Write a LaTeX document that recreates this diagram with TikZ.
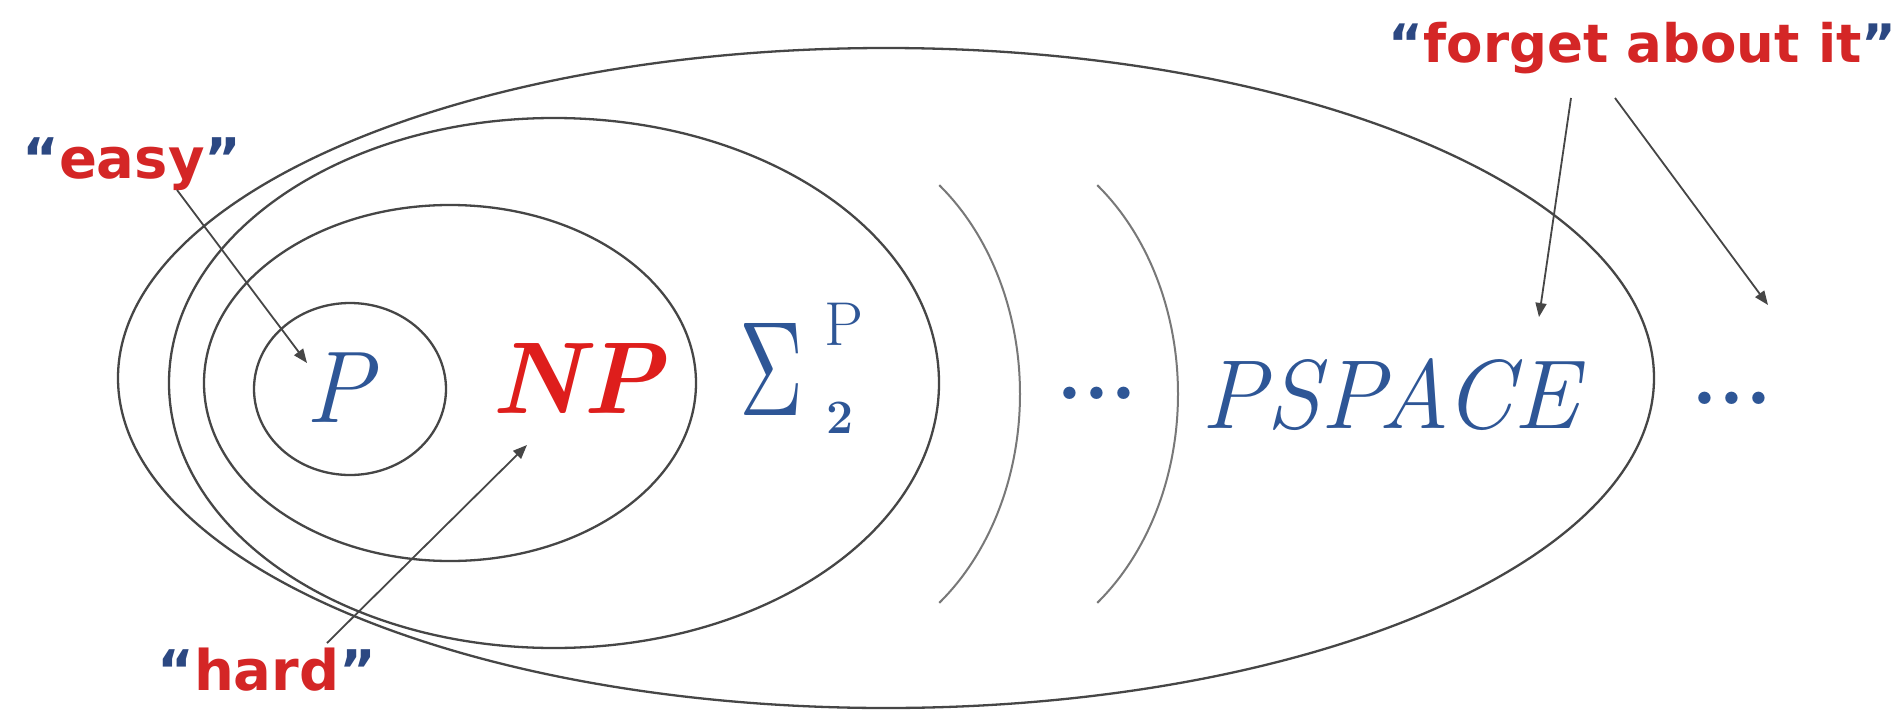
\documentclass[tikz,border=0pt]{standalone}
\usepackage{fontspec}
\usepackage{graphicx}
\newfontfamily\lblfont{DejaVu Sans}
\usetikzlibrary{arrows.meta}
\definecolor{setblue}{RGB}{46,86,150}
\definecolor{npred}{RGB}{222,30,28}
\definecolor{lblred}{RGB}{212,38,38}
\definecolor{quoteblue}{RGB}{44,72,130}
\definecolor{ringc}{RGB}{70,70,70}
\definecolor{arcc}{RGB}{120,120,120}
\definecolor{ptrc}{RGB}{70,70,70}
\begin{document}
\begin{tikzpicture}[x=1pt,y=-1pt,
  ring/.style={draw=ringc, line width=2.3pt},
  bracket/.style={draw=arcc, line width=2pt},
  pointer/.style={draw=ptrc, line width=1.8pt, -{Triangle[length=14pt,width=11pt]}},
  lbl/.style={font=\lblfont\bfseries\fontsize{56}{60}\selectfont, text=lblred, inner sep=0pt},
  cls/.style={text=setblue, inner sep=0pt},
  dotrow/.style={cls, font=\bfseries\fontsize{86}{86}\selectfont},
]
\useasboundingbox (0,0) rectangle (1903,712);
\fill[white] (0,0) rectangle (1903,712);

% nested classes
\draw[ring] (886,378) ellipse [x radius=768, y radius=330];
\draw[ring] (554,383) ellipse [x radius=385, y radius=265];
\draw[ring] (450,383) ellipse [x radius=246, y radius=178];
\draw[ring] (350,389) ellipse [x radius=96, y radius=86];
\draw[bracket] plot[domain=-52:52, samples=60, smooth] ({810+210*cos(\x)}, {394+265*sin(\x)});
\draw[bracket] plot[domain=-52:52, samples=60, smooth] ({968+210*cos(\x)}, {394+265*sin(\x)});

% class names
\node[cls, anchor=base, font=\itshape\fontsize{102}{102}\selectfont] (P) at (339,422) {P};
\node[anchor=base, text=npred, inner sep=0pt, font=\bfseries\itshape\fontsize{102}{102}\selectfont] (NP) at (577,413) {NP};
\node[cls] (sigma) at (771,369) {\resizebox{64pt}{92pt}{Σ}};
\node[cls, font=\fontsize{62}{62}\selectfont] (sup) at (844,324) {P};
\node[cls, font=\fontsize{48}{48}\selectfont\bfseries] (sub) at (840,418) {2};
\node[dotrow] (dotsA) at (1097,393) {...};
\node[cls, anchor=base, font=\itshape\fontsize{98}{98}\selectfont] (PSPACE) at (1390,428) {PSPACE};
\node[dotrow] (dotsB) at (1732,398) {...};

% labels
\node[lbl, anchor=base west] (easy) at (22,178) {\textcolor{quoteblue}{“}easy\textcolor{quoteblue}{”}};
\node[lbl, anchor=base west] (hard) at (157,690) {\textcolor{quoteblue}{“}hard\textcolor{quoteblue}{”}};
\node[lbl, anchor=base east, font=\lblfont\bfseries\fontsize{53}{58}\selectfont] (forget) at (1897,62) {\textcolor{quoteblue}{“}forget about it\textcolor{quoteblue}{”}};

% pointers
\coordinate (easyTail) at (177,190);
\coordinate (easyTip) at (307,363);
\coordinate (hardTail) at (327,643);
\coordinate (hardTip) at (527,445);
\coordinate (fTailA) at (1571,98);
\coordinate (fTipA) at (1539,317);
\coordinate (fTailB) at (1615,98);
\coordinate (fTipB) at (1768,305);
\draw[pointer] (easyTail) -- (easyTip);
\draw[pointer] (hardTail) -- (hardTip);
\draw[pointer] (fTailA) -- (fTipA);
\draw[pointer] (fTailB) -- (fTipB);
\end{tikzpicture}
\end{document}
